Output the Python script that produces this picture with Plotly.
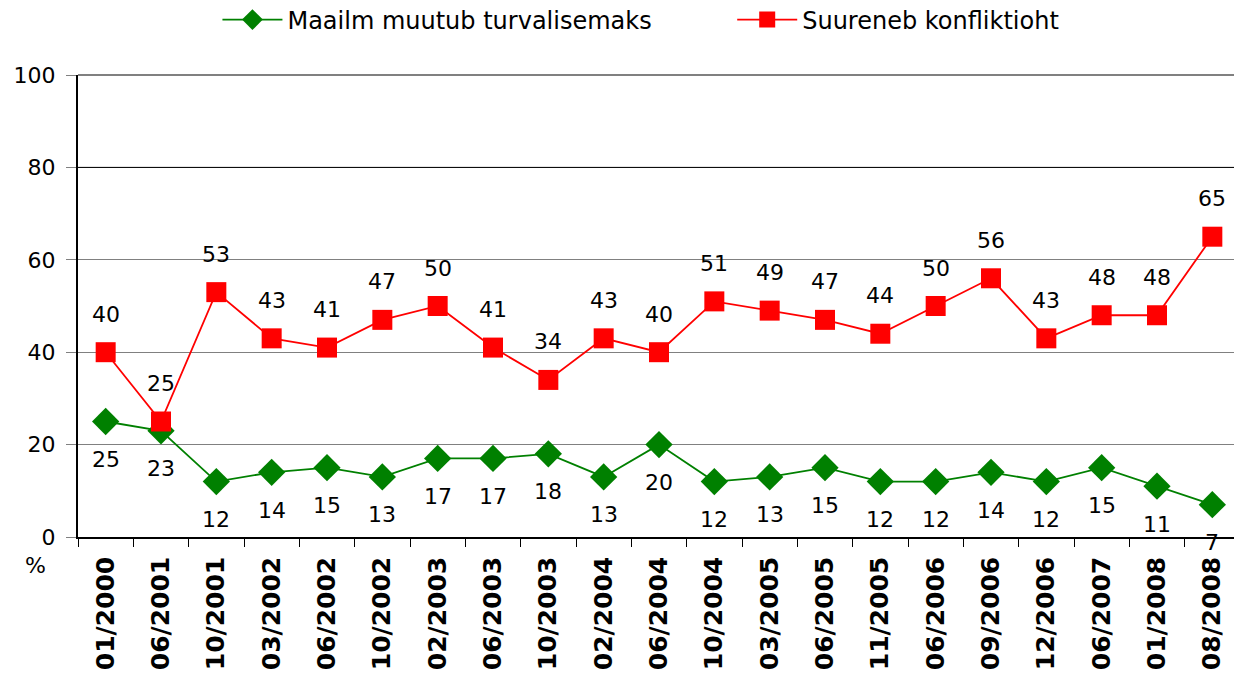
import plotly.graph_objects as go

categories = ["01/2000", "06/2001", "10/2001", "03/2002", "06/2002", "10/2002", "02/2003",
              "06/2003", "10/2003", "02/2004", "06/2004", "10/2004", "03/2005", "06/2005",
              "11/2005", "06/2006", "09/2006", "12/2006", "06/2007", "01/2008", "08/2008"]
safer = [25, 23, 12, 14, 15, 13, 17, 17, 18, 13, 20, 12, 13, 15, 12, 12, 14, 12, 15, 11, 7]
conflict = [40, 25, 53, 43, 41, 47, 50, 41, 34, 43, 40, 51, 49, 47, 44, 50, 56, 43, 48, 48, 65]
y_ticks = [0, 20, 40, 60, 80, 100]

FONT = "DejaVu Sans"
fig = go.Figure()
fig.add_trace(go.Scatter(
    x=categories, y=safer, mode="lines+markers", name="Maailm muutub turvalisemaks",
    line=dict(color="#008000", width=1.8),
    marker=dict(symbol="diamond", size=21, color="#008000"),
    legend="legend",
))
fig.add_trace(go.Scatter(
    x=categories, y=conflict, mode="lines+markers", name="Suureneb konfliktioht",
    line=dict(color="#FF0000", width=1.8),
    marker=dict(symbol="square", size=20, color="#FF0000"),
    legend="legend2",
))

for c, v in zip(categories, safer):
    fig.add_annotation(x=c, y=v, text=str(v), showarrow=False, yshift=-38,
                       font=dict(family=FONT, size=22, color="black"))
for c, v in zip(categories, conflict):
    fig.add_annotation(x=c, y=v, text=str(v), showarrow=False, yshift=38,
                       font=dict(family=FONT, size=22, color="black"))

fig.add_annotation(x=-0.037, y=-0.03, xref="paper", yref="paper", text="%", showarrow=False,
                   xanchor="center", yanchor="top", font=dict(family=FONT, size=22, color="black"))

fig.add_shape(type="line", xref="paper", yref="y", x0=0, x1=1, y0=80, y1=80,
              line=dict(color="black", width=1), layer="above")

leg_common = dict(orientation="h", xanchor="left", y=1.119, yanchor="middle",
                  font=dict(family=FONT, size=24), itemwidth=60, bgcolor="rgba(0,0,0,0)")
fig.update_layout(
    width=1234, height=665,
    margin=dict(l=70, r=2, t=67, b=136, autoexpand=False),
    paper_bgcolor="white", plot_bgcolor="white",
    font=dict(family=FONT, color="black"),
    showlegend=True,
    legend=dict(x=0.12, **leg_common),
    legend2=dict(x=0.563, **leg_common),
)
fig.update_xaxes(
    type="category", showline=True, linecolor="black", linewidth=1.5, mirror=False,
    ticks="outside", tickson="boundaries", ticklen=8, tickcolor="black",
    ticklabelstandoff=8,
    tickangle=-90, tickfont=dict(family=FONT, size=25, color="black", weight="bold"),
    showgrid=False, range=[-0.5, len(categories) - 0.5],
)
fig.update_yaxes(
    range=[0, 100], tickvals=y_ticks, showline=True, linecolor="black", linewidth=2,
    ticks="outside", ticklen=10, tickcolor="#808080", ticklabelstandoff=6,
    tickfont=dict(family=FONT, size=22, color="black"),
    showgrid=True, gridcolor="#808080", gridwidth=1, zeroline=False,
)
fig.add_shape(type="line", xref="paper", yref="paper", x0=1, x1=1, y0=0, y1=1,
              line=dict(color="#808080", width=2))
fig.add_shape(type="line", xref="paper", yref="paper", x0=0, x1=1, y0=1, y1=1,
              line=dict(color="#808080", width=2))

fig.write_html("out.html")
